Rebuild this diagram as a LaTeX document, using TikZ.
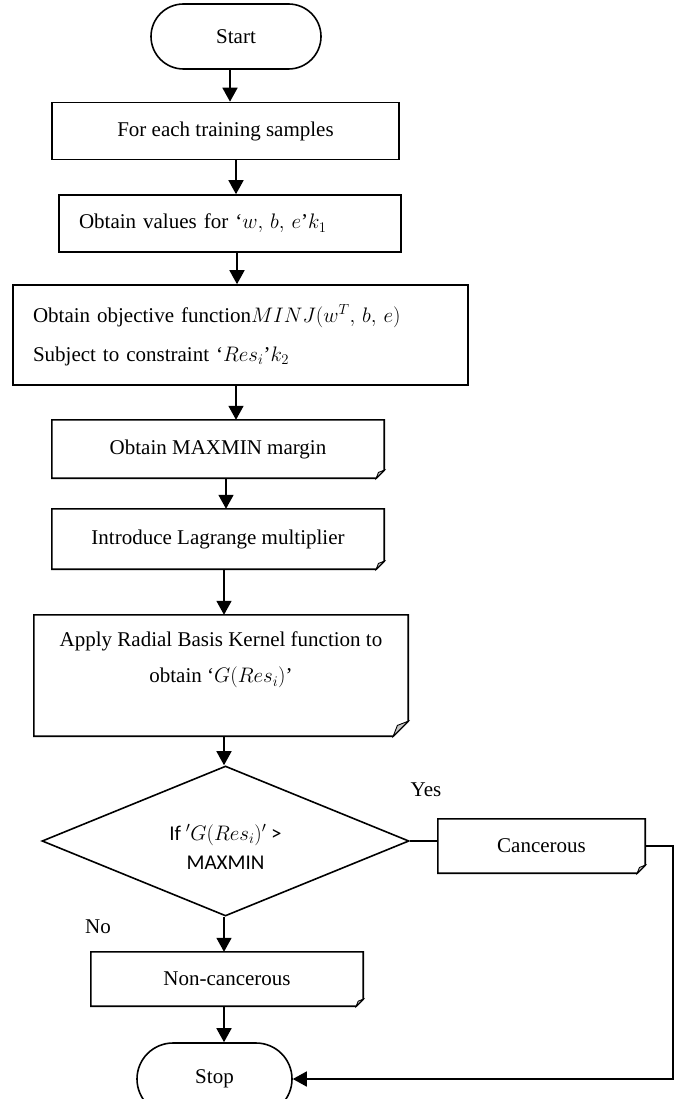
\RequirePackage{fix-cm}
\documentclass[tikz,border=0pt]{standalone}
\usepackage{fontspec}
\setmainfont{Liberation Serif}
\newfontfamily\calibri{Carlito}
\usetikzlibrary{arrows.meta,shapes.geometric,shapes.misc,calc}

% outline of a box whose lower right corner is folded over
\newcommand\foldframe[2]{%
  \draw[line width=1.6pt] (#1.north west) -- (#1.north east)
    -- ([yshift=#2]#1.south east) -- ([xshift=-#2]#1.south east)
    -- (#1.south west) -- cycle;
  \filldraw[fill=gray!45, line width=0.9pt] ([yshift=#2]#1.south east)
    -- ([xshift=-#2]#1.south east)
    -- ([xshift=-0.72*#2, yshift=0.72*#2]#1.south east) -- cycle;}

\begin{document}
\begin{tikzpicture}[x=1pt,y=-1pt,
  every node/.style={font=\fontsize{21}{26}\selectfont},
  line/.style={line width=1.6pt},
  arr/.style={line, -{Triangle[length=14pt,width=15pt]}},
  plainbox/.style={rectangle, draw, line width=1.6pt, inner sep=0pt},
  foldbox/.style={rectangle, inner sep=0pt},
  term/.style={rounded rectangle, draw, line width=1.6pt, inner sep=0pt},
  decision/.style={diamond, draw, line width=1.6pt, inner sep=0pt, align=center,
    aspect=2.45, font=\calibri\fontsize{21}{29}\selectfont},
  tag/.style={inner sep=0pt}]

\path[use as bounding box, clip] (0,0) rectangle (683,1099);

% steps of the procedure
\node[term, minimum width=170pt, minimum height=65pt] (start) at (236,36.5) {Start};
\node[plainbox, minimum width=347pt, minimum height=57pt] (b1) at (225.5,131)
  {For each training samples};
\node[plainbox, minimum width=342pt, minimum height=57pt, text width=302pt,
  align=left, inner xsep=20pt] (b2) at (230,223.5)
  {Obtain values for ‘$w,\, b,\, e$’$k_1$};
\node[plainbox, minimum width=455pt, minimum height=100pt, text width=415pt,
  align=left, inner xsep=20pt, font=\fontsize{21}{39}\selectfont] (b3) at (240.5,335)
  {Obtain objective function$MINJ(w^T,\, b,\, e)$\\Subject to constraint ‘$Res_i$’$k_2$};
\node[foldbox, minimum width=332pt, minimum height=58pt] (b4) at (218,449)
  {Obtain MAXMIN margin};
\node[foldbox, minimum width=332pt, minimum height=60pt] (b5) at (218,539)
  {Introduce Lagrange multiplier};
\node[foldbox, minimum width=374pt, minimum height=121pt, align=center,
  font=\fontsize{21}{36}\selectfont] (b6) at (221,675.5)
  {Apply Radial Basis Kernel function to\\obtain ‘$G(Res_i)$’\\~};
\node[decision, minimum width=367pt, minimum height=150pt, text height=56pt]
  (dec) at (225.5,841) {If ${}'G(Res_i)'$ >\\MAXMIN};
\node[foldbox, minimum width=207pt, minimum height=54pt] (can) at (541.5,846)
  {Cancerous};
\node[foldbox, minimum width=272pt, minimum height=54pt] (non) at (227,979)
  {Non-cancerous};
\node[term, minimum width=155pt, minimum height=72pt] (stop) at (214.5,1079) {Stop};

\foldframe{b4}{8pt}
\foldframe{b5}{8pt}
\foldframe{b6}{15pt}
\foldframe{can}{8pt}
\foldframe{non}{7pt}

% branch labels
\node[tag] (yes) at (426,790) {Yes};
\node[tag] (no) at (98,927) {No};

% connectors
\draw[arr] (start.south -| 230,0) -- (b1.north -| 230,0);
\draw[arr] (b1.south -| 236,0) -- (b2.north -| 236,0);
\draw[arr] (b2.south -| 237,0) -- (b3.north -| 237,0);
\draw[arr] (b3.south -| 236,0) -- (b4.north -| 236,0);
\draw[arr] (b4.south -| 226,0) -- (b5.north -| 226,0);
\draw[arr] (b5.south -| 224,0) -- (b6.north -| 224,0);
\draw[arr] (b6.south -| 224,0) -- (dec.north -| 224,0);
\draw[arr] (dec.south -| 224,0) -- (non.north -| 224,0);
\draw[arr] (non.south -| 224,0) -- (stop.north -| 224,0);
\draw[line] (dec.east) -- (dec.east -| can.west);
\draw[arr] (can.east) -- (673,846) |- (stop.east);

\end{tikzpicture}
\end{document}
